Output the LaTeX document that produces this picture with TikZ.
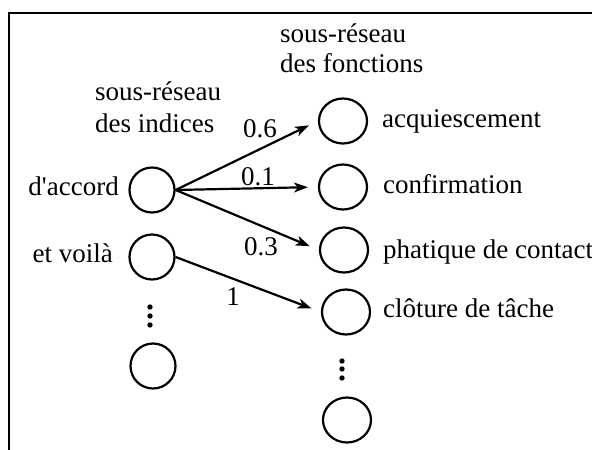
\documentclass[tikz,border=0pt]{standalone}
\usepackage{fontspec}
\setmainfont{Liberation Serif}[Ligatures=TeXOff]
\usetikzlibrary{arrows.meta,shapes.geometric}
\begin{document}
\begin{tikzpicture}[x=1pt,y=-1pt,
  every node/.style={font=\fontsize{27}{31}\selectfont, inner sep=0pt},
  lnode/.style={draw, circle, line width=2.2pt, minimum size=45pt},
  rnode/.style={draw, ellipse, line width=2.2pt, minimum width=48pt, minimum height=45pt},
  conn/.style={line width=2.2pt, -{Stealth[length=14pt,width=10pt,inset=4pt]}, shorten >=10pt},
  txt/.style={anchor=base west},
  dot/.style={fill=black}
]
\clip (0,0) rectangle (592,450);
\fill[white] (0,0) rectangle (592,450);
% frame
\draw[line width=2.6pt] (9,470) -- (9,13) -- (610,13);

% headers
\node[txt] (hL1) at (95,100) {sous-réseau};
\node[txt] (hL2) at (95,132) {des indices};
\node[txt] (hR1) at (280,42) {sous-réseau};
\node[txt] (hR2) at (280,72) {des fonctions};

% left nodes
\node[lnode] (d) at (152,190) {};
\node[lnode] (v) at (152,257) {};
\node[lnode] (l3) at (153,366) {};
\node[anchor=base east] (td) at (119,195) {d'accord};
\node[anchor=base east] (tv) at (113,262) {et voilà};

% right nodes
\node[rnode] (a) at (343,121) {};
\node[rnode] (c) at (343,187) {};
\node[rnode] (p) at (344,250) {};
\node[rnode] (t) at (346,312) {};
\node[rnode] (r5) at (347,420) {};
\node[txt] (ta) at (382,127) {acquiescement};
\node[txt] (tc) at (383,193) {confirmation};
\node[txt] (tp) at (383,258) {phatique de contact};
\node[txt] (tt) at (383,317) {clôture de tâche};

% dots
\foreach \yy in {307,316,325} \fill[dot] (150,\yy) circle (2.7pt);
\foreach \yy in {361,369,378} \fill[dot] (342,\yy) circle (2.7pt);

% connectors
\draw[conn] (d.east) -- (a.west);
\draw[conn] (d.east) -- (c.west);
\draw[conn] (d.east) -- (p.west);
\draw[conn] (v.east) -- (t.west);

% weights
\node[anchor=base] (w1) at (260,137) {0.6};
\node[anchor=base] (w2) at (258,185) {0.1};
\node[anchor=base] (w3) at (261,255) {0.3};
\node[anchor=base] (w4) at (233,305) {1};
\end{tikzpicture}
\end{document}
